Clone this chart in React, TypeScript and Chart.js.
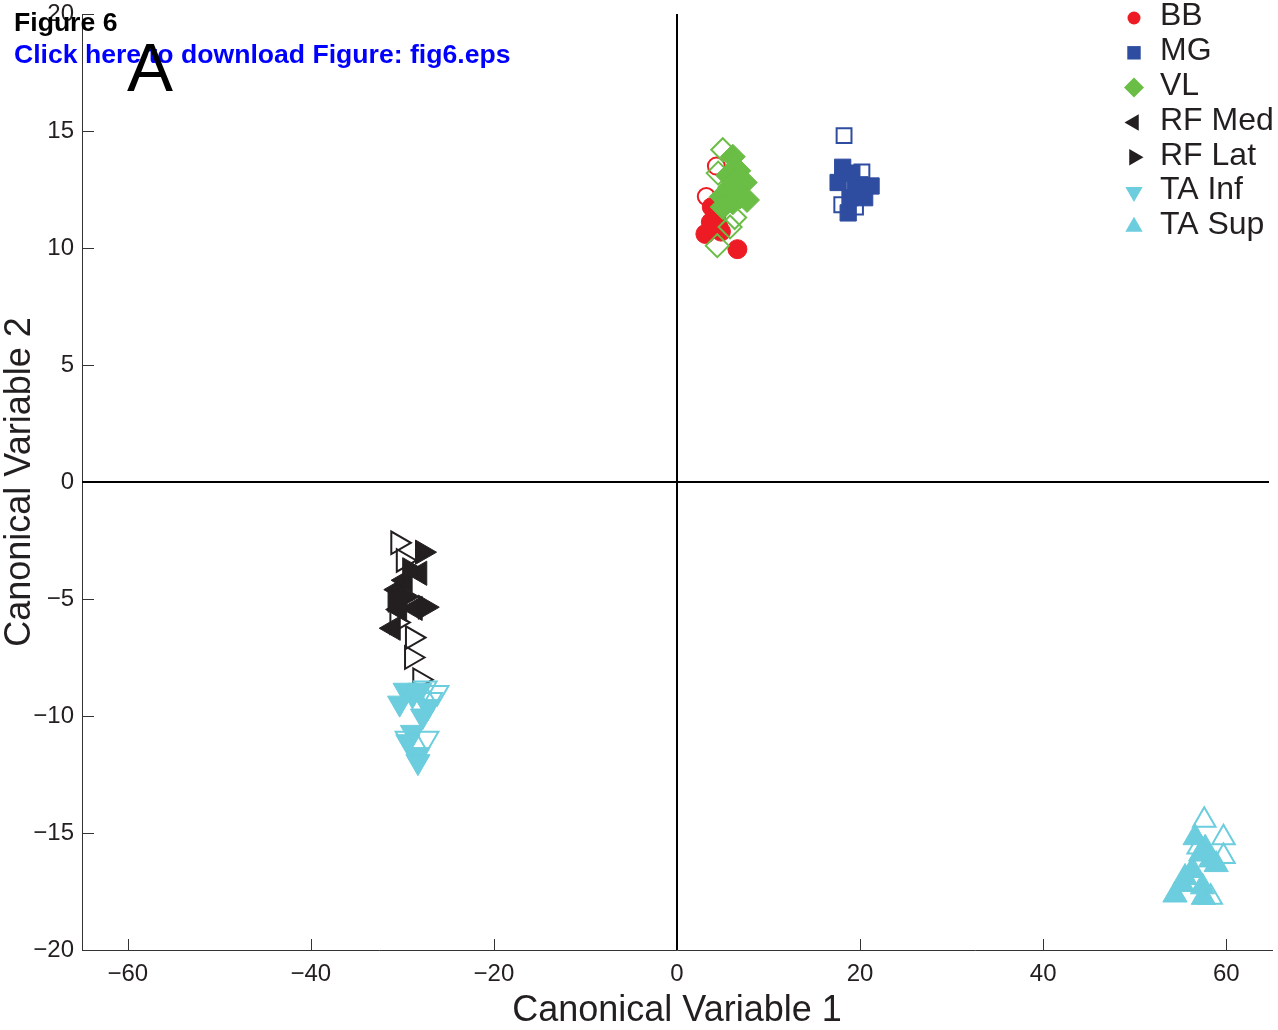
import React, { useEffect, useRef } from 'react';
import { Chart, registerables } from 'chart.js';
import { drawPoint } from 'chart.js/helpers';

Chart.register(...registerables);

// ---------- data (Canonical Variable 1, Canonical Variable 2) ----------
const bbFilled: number[][] = [
  [3.8, 11.75], [4.3, 11.4], [3.7, 11.1], [3.1, 10.6], [4.8, 10.7], [6.6, 9.95], [4.5, 10.95],
];
const bbOpen: number[][] = [[4.3, 13.5], [3.2, 12.2]];

const mgFilled: number[][] = [
  [18.1, 13.45], [19.1, 13.2], [17.6, 12.8], [20.0, 12.7], [21.2, 12.65],
  [18.9, 12.15], [20.5, 12.15], [18.7, 11.5], [19.5, 12.5],
];
const mgOpen: number[][] = [[18.25, 14.8], [20.2, 13.25], [18.0, 11.85], [19.5, 11.75]];

const vlFilled: number[][] = [
  [6.1, 13.9], [6.7, 13.3], [7.4, 12.8], [5.8, 12.6], [4.9, 12.2], [6.9, 12.2],
  [5.0, 11.75], [6.1, 11.95], [7.65, 12.05], [5.6, 13.1],
];
const vlOpen: number[][] = [[5.0, 14.2], [4.5, 13.2], [6.3, 11.3], [4.4, 10.1], [5.8, 10.9]];

const rfMedFilled: number[][] = [
  [-30.5, -4.6], [-28.1, -3.9], [-31.0, -6.25], [-28.6, -5.4], [-29.7, -4.2], [-30.3, -5.45],
];
const rfMedOpen: number[][] = [];

const rfLatFilled: number[][] = [
  [-27.8, -3.0], [-27.5, -5.35], [-29.7, -4.9], [-29.2, -3.75], [-30.8, -5.05],
];
const rfLatOpen: number[][] = [
  [-30.5, -2.6], [-29.9, -3.35], [-30.6, -6.0], [-28.9, -6.65], [-29.0, -7.5], [-28.1, -8.45],
];

const taInfFilled: number[][] = [
  [-29.7, -8.9], [-28.9, -9.1], [-30.3, -9.45], [-27.2, -9.6], [-27.8, -10.0],
  [-28.9, -10.7], [-29.4, -11.1], [-28.3, -11.65], [-28.3, -11.95], [-28.1, -8.9],
];
const taInfOpen: number[][] = [
  [-27.5, -8.8], [-26.2, -9.0], [-29.5, -10.95], [-27.3, -10.95], [-26.9, -9.3],
];

const taSupFilled: number[][] = [
  [56.6, -15.2], [57.7, -15.65], [58.3, -16.15], [56.3, -16.6], [55.5, -16.9], [55.2, -17.2],
  [54.4, -17.65], [57.4, -17.3], [57.5, -17.75], [57.2, -15.9], [58.9, -16.35],
];
const taSupOpen: number[][] = [
  [57.6, -14.45], [59.7, -15.2], [59.7, -16.0], [58.3, -17.75], [57.0, -15.6],
];

const groupLabels = ['BB', 'MG', 'VL', 'RF Med', 'RF Lat', 'TA Inf', 'TA Sup'];
const xTickValues = [-60, -40, -20, 0, 20, 40, 60];
const yTickValues = [-20, -15, -10, -5, 0, 5, 10, 15, 20];
const xLabel = 'Canonical Variable 1';
const yLabel = 'Canonical Variable 2';

// ---------- styles ----------
const FONT = "'Liberation Sans', Arial, Helvetica, sans-serif";
const INK = '#231F20';

const groups = [
  { label: groupLabels[0], color: '#ED1C24', style: 'circle', rot: 0, r: 9.5, lr: 6.5, filled: bbFilled, open: bbOpen },
  { label: groupLabels[1], color: '#2F4DA0', style: 'rect', rot: 0, r: 11.5, lr: 9.5, filled: mgFilled, open: mgOpen },
  { label: groupLabels[2], color: '#6ABD45', style: 'rectRot', rot: 0, r: 12.5, lr: 10, filled: vlFilled, open: vlOpen },
  { label: groupLabels[3], color: INK, style: 'triangle', rot: -90, r: 14, lr: 9.5, filled: rfMedFilled, open: rfMedOpen },
  { label: groupLabels[4], color: INK, style: 'triangle', rot: 90, r: 14, lr: 9.5, filled: rfLatFilled, open: rfLatOpen },
  { label: groupLabels[5], color: '#6BCDDD', style: 'triangle', rot: 180, r: 14, lr: 10, filled: taInfFilled, open: taInfOpen },
  { label: groupLabels[6], color: '#6BCDDD', style: 'triangle', rot: 0, r: 14, lr: 10, filled: taSupFilled, open: taSupOpen },
];

const fmt = (v: number) => (v < 0 ? '\u2212' + Math.abs(v) : String(v));
const noPadding = () => ({ left: 0, top: 0, right: 0, bottom: 0 });

const axesPlugin = {
  id: 'axesDecor',
  beforeDatasetsDraw(chart: any) {
    const { ctx, chartArea, scales } = chart;
    const xs = scales.x;
    const ys = scales.y;
    ctx.save();
    // inward tick marks
    ctx.strokeStyle = '#333';
    ctx.lineWidth = 1;
    ctx.beginPath();
    yTickValues.forEach((v) => {
      const py = Math.round(ys.getPixelForValue(v)) + 0.5;
      ctx.moveTo(chartArea.left, py);
      ctx.lineTo(chartArea.left + 12, py);
    });
    xTickValues.forEach((v) => {
      const px = Math.round(xs.getPixelForValue(v)) + 0.5;
      ctx.moveTo(px, chartArea.bottom);
      ctx.lineTo(px, chartArea.bottom - 11);
    });
    ctx.stroke();
    // zero lines
    ctx.strokeStyle = '#000';
    ctx.lineWidth = 2;
    ctx.beginPath();
    const x0 = Math.round(xs.getPixelForValue(0));
    const y0 = Math.round(ys.getPixelForValue(0));
    ctx.moveTo(x0, chartArea.top);
    ctx.lineTo(x0, chartArea.bottom);
    ctx.moveTo(chartArea.left, y0);
    ctx.lineTo(chartArea.right - 3, y0);
    ctx.stroke();
    ctx.restore();
  },
};

const legendPlugin = {
  id: 'markerLegend',
  afterDraw(chart: any) {
    const ctx = chart.ctx;
    ctx.save();
    groups.forEach((g, i) => {
      const cy = 16.5 + i * 34.8;
      ctx.fillStyle = g.color;
      ctx.strokeStyle = g.color;
      drawPoint(ctx, { pointStyle: g.style as any, rotation: g.rot, radius: g.lr, borderWidth: 0 } as any, 1134, cy + 1.5);
      ctx.fillStyle = INK;
      ctx.font = `32px ${FONT}`;
      ctx.textAlign = 'left';
      ctx.textBaseline = 'middle';
      ctx.fillText(g.label, 1160, cy);
    });
    ctx.restore();
  },
};

export default function App() {
  const canvasRef = useRef<HTMLCanvasElement | null>(null);

  useEffect(() => {
    if (!canvasRef.current) return;
    const datasets: any[] = [];
    groups.forEach((g) => {
      datasets.push({
        label: g.label,
        data: g.filled.map(([x, y]) => ({ x, y })),
        pointStyle: g.style,
        rotation: g.rot,
        pointRadius: g.r,
        backgroundColor: g.color,
        borderColor: g.color,
        borderWidth: 1,
        showLine: false,
      });
      datasets.push({
        label: g.label + ' (open)',
        data: g.open.map(([x, y]) => ({ x, y })),
        pointStyle: g.style,
        rotation: g.rot,
        pointRadius: g.r - 1,
        backgroundColor: 'rgba(0,0,0,0)',
        borderColor: g.color,
        borderWidth: 2,
        showLine: false,
      });
    });
    const n = datasets.length;
    datasets.forEach((d, i) => (d.order = n - i));

    const tickFont = { family: FONT, size: 24, lineHeight: 1 };
    const titleFont = { family: FONT, size: 36, lineHeight: 1 };

    const chart = new Chart(canvasRef.current, {
      type: 'scatter',
      data: { datasets },
      options: {
        animation: false,
        responsive: false,
        maintainAspectRatio: false,
        layout: { autoPadding: false, padding: { top: 14, right: 6, left: 0, bottom: 0 } },
        plugins: { legend: { display: false }, tooltip: { enabled: false } },
        elements: { point: { hoverRadius: 0 } },
        scales: {
          x: {
            type: 'linear',
            min: -65,
            max: 65,
            afterBuildTicks: (axis: any) => {
              axis.ticks = xTickValues.map((v) => ({ value: v }));
            },
            afterFit: (axis: any) => {
              axis.height = 80;
              axis.paddingLeft = 0;
              axis.paddingRight = 0;
              axis.getPadding = noPadding;
            },
            grid: { display: false, drawTicks: false },
            border: { display: true, color: '#333', width: 1 },
            ticks: {
              font: tickFont,
              color: INK,
              padding: 12,
              maxRotation: 0,
              autoSkip: false,
              callback: (v: any) => fmt(Number(v)),
            },
            title: {
              display: true,
              text: xLabel,
              font: titleFont,
              color: INK,
              padding: { top: 0, bottom: 1 },
            },
          },
          y: {
            type: 'linear',
            min: -20,
            max: 20,
            afterBuildTicks: (axis: any) => {
              axis.ticks = yTickValues.map((v) => ({ value: v }));
            },
            afterFit: (axis: any) => {
              axis.width = 82;
              axis.paddingTop = 0;
              axis.paddingBottom = 0;
              axis.getPadding = noPadding;
            },
            grid: { display: false, drawTicks: false },
            border: { display: true, color: '#333', width: 1 },
            ticks: {
              font: tickFont,
              color: INK,
              padding: 8,
              autoSkip: false,
              callback: (v: any) => fmt(Number(v)),
            },
            title: {
              display: true,
              text: yLabel,
              font: titleFont,
              color: INK,
              padding: { top: 2, bottom: 0 },
            },
          },
        },
      } as any,
      plugins: [axesPlugin, legendPlugin],
    });
    return () => chart.destroy();
  }, []);

  return (
    <div style={{ position: 'absolute', left: 0, top: 0, width: 1278, height: 1030, background: '#fff' }}>
      <canvas ref={canvasRef} width={1278} height={1030} style={{ display: 'block', width: 1278, height: 1030 }} />
      <div style={{ position: 'absolute', left: 14, top: 9, font: `bold 26.6px/26.6px ${FONT}`, color: '#000', whiteSpace: 'nowrap' }}>
        Figure 6
      </div>
      <div style={{ position: 'absolute', left: 14, top: 41, font: `bold 26.6px/26.6px ${FONT}`, color: '#0000FF', whiteSpace: 'nowrap' }}>
        Click here to download Figure: fig6.eps
      </div>
      <div style={{ position: 'absolute', left: 127, top: 33, font: `69px/69px ${FONT}`, color: '#000', whiteSpace: 'nowrap' }}>
        A
      </div>
    </div>
  );
}
